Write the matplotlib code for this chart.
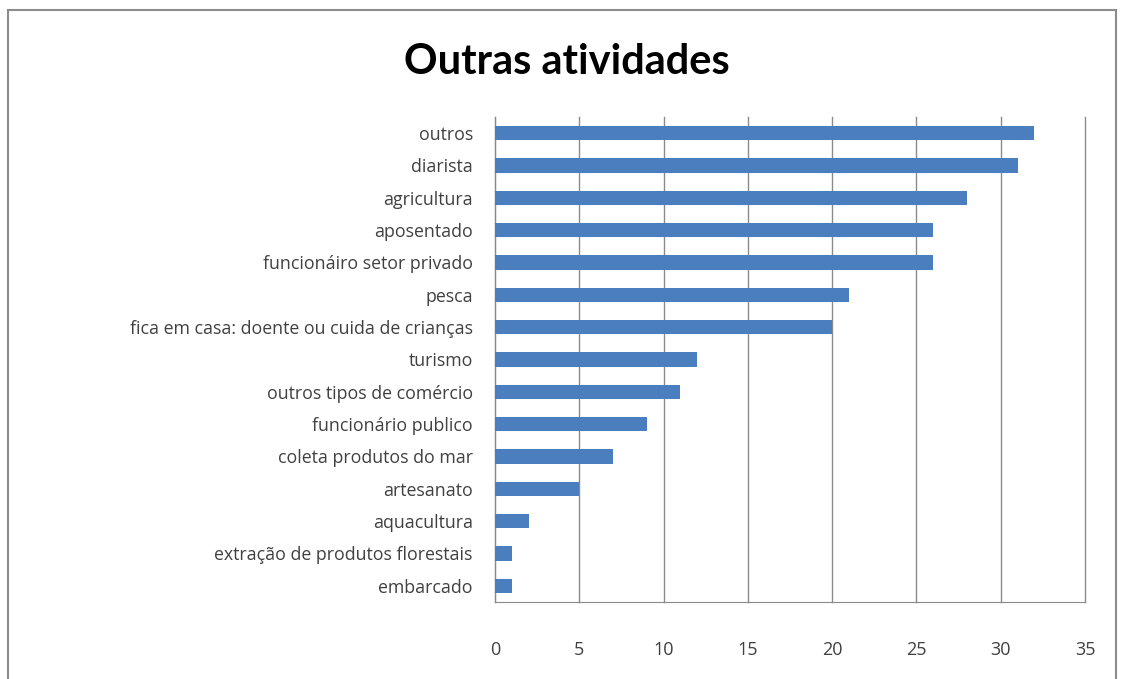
import matplotlib
matplotlib.use("Agg")
import matplotlib.pyplot as plt
from matplotlib.patches import Rectangle

categories = ["outros", "diarista", "agricultura", "aposentado",
              "funcionáiro setor privado", "pesca",
              "fica em casa: doente ou cuida de crianças", "turismo",
              "outros tipos de comércio", "funcionário publico",
              "coleta produtos do mar", "artesanato", "aquacultura",
              "extração de produtos florestais", "embarcado"]
values = [32, 31, 28, 26, 26, 21, 20, 12, 11, 9, 7, 5, 2, 1, 1]
xticks = [0, 5, 10, 15, 20, 25, 30, 35]

plt.rcParams['font.family'] = ['Open Sans', 'DejaVu Sans']

fig = plt.figure(figsize=(11.22, 6.79), dpi=100)
fig.patches.append(Rectangle((8/1122, -0.01), 1108/1122, 1 - 10/679 + 0.01,
                             transform=fig.transFigure, fill=False,
                             edgecolor="#8c8c8c", linewidth=1.5))
ax = fig.add_axes([495/1122, 1 - 602/679, 590/1122, 485/679])

n = len(categories)
ypos = list(range(n))[::-1]
ax.barh(ypos, values, height=0.45, color="#4A7EBF", zorder=3)
ax.set_ylim(-0.5, n - 0.5)
ax.set_xlim(0, 35)
ax.set_xticks(xticks)
ax.set_xticklabels([str(t) for t in xticks], fontsize=13, color="#404040")
ax.set_yticks(ypos)
ax.set_yticklabels(categories, fontsize=12.8, color="#404040")
ax.tick_params(axis='x', length=0, pad=28)
ax.tick_params(axis='y', length=0, pad=16)
ax.grid(axis='x', color="#8a8a8a", linewidth=1.0, zorder=0)
for line in ax.get_xgridlines():
    line.set_clip_on(False)
for s in ["top", "right"]:
    ax.spines[s].set_visible(False)
for s in ["left", "bottom"]:
    ax.spines[s].set_color("#8a8a8a")

fig.text(0.505, 1 - 62/679, "Outras atividades", ha="center", va="center",
         fontsize=30, fontweight="bold", color="black", family="Lato")

fig.savefig("out.png", dpi=100)
